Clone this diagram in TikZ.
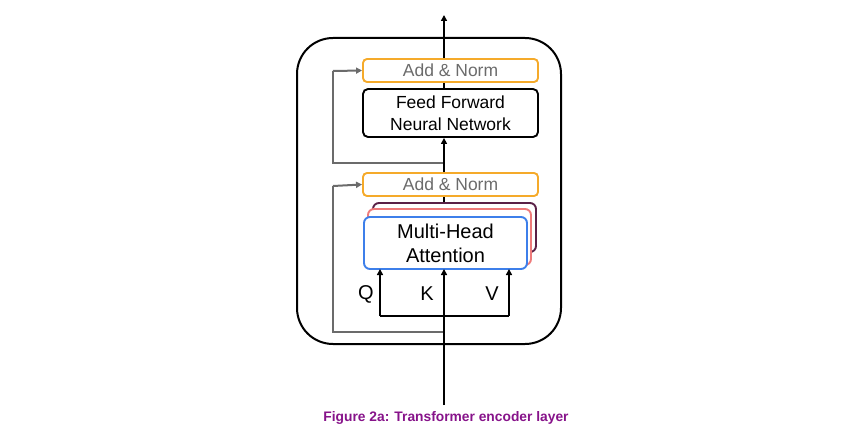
\documentclass[tikz,border=0pt]{standalone}
\usepackage{fontspec}
\setmainfont{Liberation Sans}
\usetikzlibrary{arrows.meta}
\definecolor{normorange}{HTML}{F5AA2A}
\definecolor{headblue}{HTML}{3D7FEA}
\definecolor{headred}{HTML}{EE7A7A}
\definecolor{headpurple}{HTML}{5A2147}
\definecolor{resgray}{HTML}{6B6B6B}
\definecolor{capurple}{HTML}{87138A}
\begin{document}
\begin{tikzpicture}[x=1pt,y=-1pt,
  normbox/.style={draw=normorange,line width=1.9pt,rounded corners=4pt,minimum width=175pt,minimum height=23pt,inner sep=0pt,text=resgray,font=\fontsize{17.5}{20}\selectfont},
  ffnbox/.style={draw=black,line width=1.9pt,rounded corners=5pt,minimum width=175pt,minimum height=48pt,inner sep=0pt,align=center,font=\fontsize{17.5}{21.5}\selectfont},
  headbox/.style={line width=1.9pt,rounded corners=6pt,minimum width=163pt,inner sep=0pt,fill=white,align=center,font=\fontsize{20}{24}\selectfont},
  mainline/.style={line width=2pt,black},
  tip/.style={-{Triangle[length=6pt,width=6pt]}},
  resline/.style={line width=2pt,resgray},
  lbl/.style={font=\fontsize{20}{24}\selectfont,inner sep=0pt}]
\useasboundingbox (0,0) rectangle (868,441);
\node[draw,line width=2pt,rounded corners=36pt,minimum width=264pt,minimum height=306pt] (outer) at (429,191) {};
% stack of heads
\node[headbox,draw=headpurple,minimum height=49pt] (hp) at (454.5,227.5) {};
\node[headbox,draw=headred,minimum height=56pt] (hr) at (449.5,237) {};
\node[headbox,draw=headblue,minimum height=52pt] (hb) at (445.5,243) {Multi-Head\\Attention};
\node[normbox] (an2) at (450.5,184.5) {Add \& Norm};
\node[ffnbox] (ffn) at (450.5,113) {Feed Forward\\Neural Network};
\node[normbox] (an1) at (450.5,70.5) {Add \& Norm};
% coordinates
\coordinate (in) at (444,405);
\coordinate (out) at (444,15);
\coordinate (kin) at (444,269);
\coordinate (qin) at (380,269);
\coordinate (vin) at (509,269);
\coordinate (qb) at (380,316);
\coordinate (vb) at (509,316);
\coordinate (r2a) at (444,332);
\coordinate (r2b) at (333,332);
\coordinate (r2c) at (333,186);
\coordinate (r1a) at (444,163);
\coordinate (r1b) at (333,163);
\coordinate (r1c) at (333,71);
% residuals
\draw[resline] (r2a) -- (r2b) -- (r2c);
\draw[resline,tip] (r2c) -- (an2.west);
\draw[resline] (r1a) -- (r1b) -- (r1c);
\draw[resline,tip] (r1c) -- (an1.west);
% main path
\draw[mainline,tip] (in) -- (kin);
\draw[mainline] (qb) -- (vb);
\draw[mainline,tip] (qb) -- (qin);
\draw[mainline,tip] (vb) -- (vin);
\draw[mainline] (hp.north -| in) -- (an2.south -| in);
\draw[mainline,tip] (an2.north -| in) -- (ffn.south -| in);
\draw[mainline] (ffn.north -| in) -- (an1.south -| in);
\draw[mainline,tip] (an1.north -| in) -- (out);
% labels
\node[lbl] (q) at (366,294) {Q};
\node[lbl] (k) at (427,294) {K};
\node[lbl] (v) at (492,294) {V};
\node[font=\bfseries\fontsize{13.8}{16}\selectfont,text=capurple,inner sep=0pt] (cap) at (446,418) {Figure 2a: Transformer encoder layer};
\end{tikzpicture}
\end{document}
